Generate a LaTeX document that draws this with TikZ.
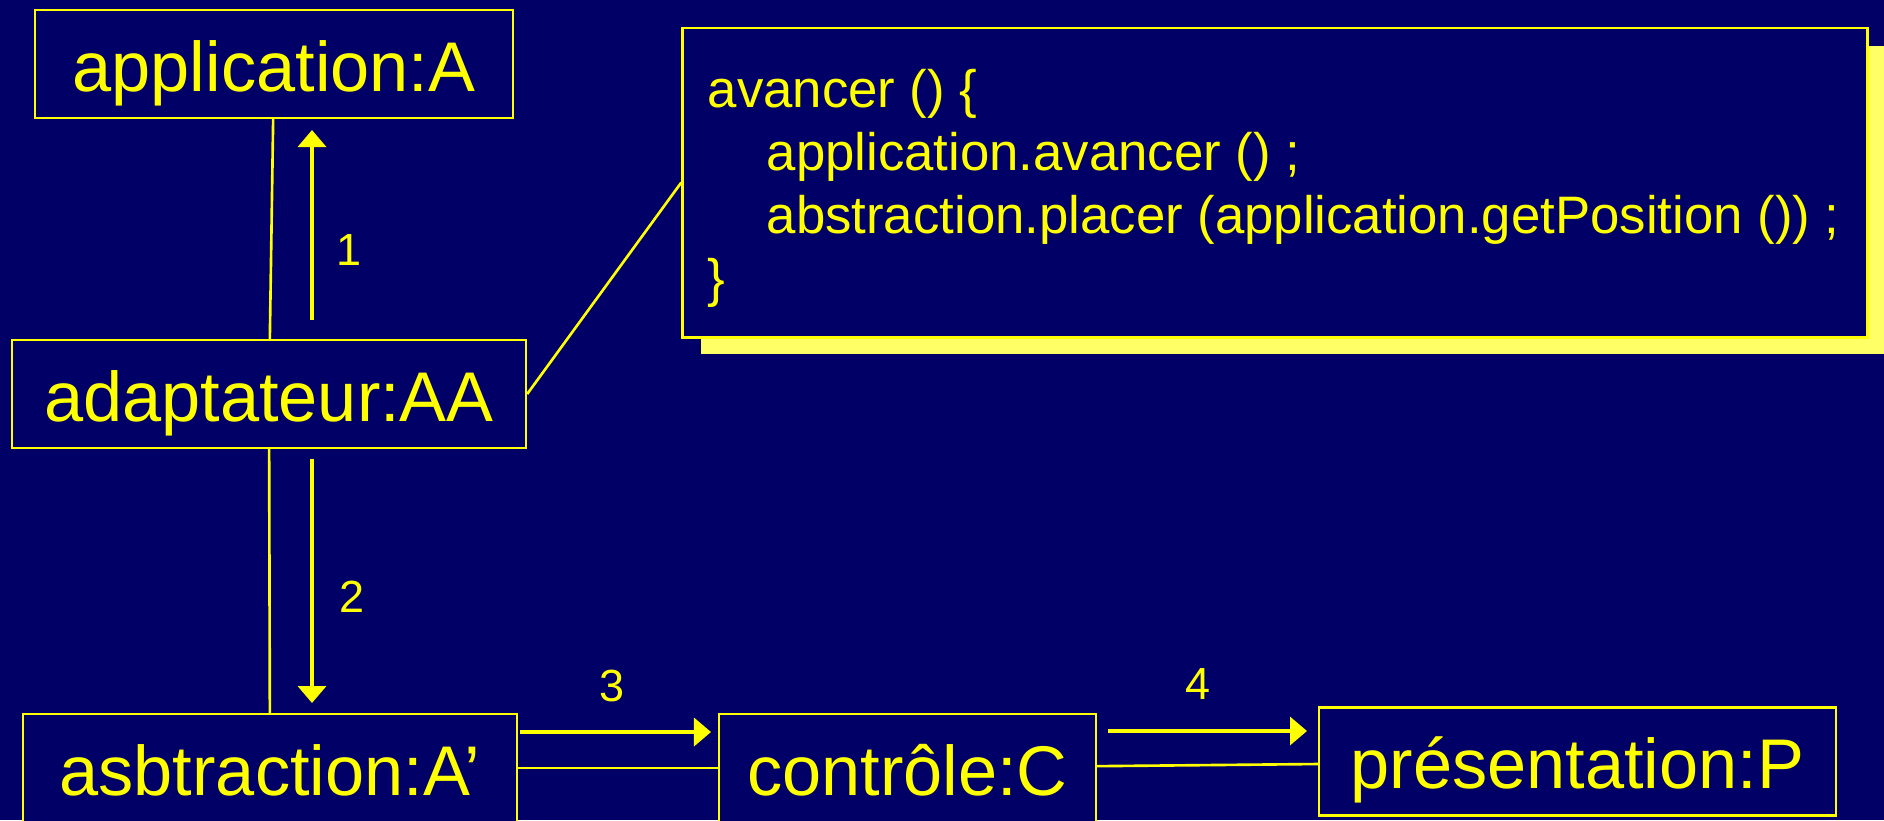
\documentclass[tikz,border=0pt]{standalone}
\usepackage{fontspec}
\setmainfont{Liberation Sans}
\usetikzlibrary{arrows.meta}
\definecolor{navy}{RGB}{0,0,102}
\definecolor{ylw}{RGB}{255,255,0}
\definecolor{shadowylw}{RGB}{255,255,102}
\tikzset{
  obj/.style={draw=ylw, line width=0.6pt, fill=navy, text=ylw, inner sep=0pt,
    font=\fontsize{20pt}{24pt}\selectfont, text height=0.81cm, text depth=0.27cm, align=center},
  link/.style={draw=ylw, line width=0.75pt},
  msg/.style={draw=ylw, line width=1pt, -{Triangle[length=0.17cm, width=0.28cm]}},
  num/.style={text=ylw, inner sep=0pt, font=\fontsize{12.8pt}{15pt}\selectfont},
  code/.style={text=ylw, inner sep=0pt, anchor=base west, font=\fontsize{15pt}{18pt}\selectfont}
}
\begin{document}
\begin{tikzpicture}[x=0.01cm, y=-0.01cm]
\fill[navy] (0,0) rectangle (1884,820);
\useasboundingbox (0,0) rectangle (1884,820);

% note with shadow
\fill[shadowylw] (701,46) rectangle (1900,354);
\node[draw=ylw, line width=0.8pt, fill=navy, inner sep=0pt, minimum width=11.84cm, minimum height=3.09cm] (note) at (1275,182.5) {};
\node[code] (c1) at (707,107) {avancer () \{};
\node[code] (c2) at (766,170) {application.avancer () ;};
\node[code] (c3) at (766,233) {abstraction.placer (application.getPosition ()) ;};
\node[code] (c4) at (707,296) {\}};

% objects
\node[obj, minimum width=4.78cm] (app) at (274,64) {application:A};
\node[obj, minimum width=5.14cm] (adapt) at (269,394) {adaptateur:AA};
\node[obj, minimum width=4.94cm] (abs) at (270,768) {asbtraction:A’};
\node[obj, minimum width=3.77cm] (ctrl) at (907.5,768) {contrôle:C};
\node[obj, minimum width=5.17cm] (pres) at (1577.5,761.5) {présentation:P};

% links
\draw[link] (app) -- (adapt);
\draw[link] (adapt) -- (abs);
\draw[link] (adapt.east) -- (note.west);
\draw[link] (abs) -- (ctrl);
\draw[link] (ctrl) -- (pres);

% messages
\coordinate (m1s) at (312,320); \coordinate (m1e) at (312,130);
\coordinate (m2s) at (312,459); \coordinate (m2e) at (312,703);
\coordinate (m3s) at (520,732); \coordinate (m3e) at (711,732);
\coordinate (m4s) at (1108,731); \coordinate (m4e) at (1307,731);
\draw[msg] (m1s) -- (m1e);
\draw[msg] (m2s) -- (m2e);
\draw[msg] (m3s) -- (m3e);
\draw[msg] (m4s) -- (m4e);
\node[num] (n1) at (349,250) {1};
\node[num] (n2) at (352,597) {2};
\node[num] (n3) at (612,686) {3};
\node[num] (n4) at (1198,684) {4};
\end{tikzpicture}
\end{document}
